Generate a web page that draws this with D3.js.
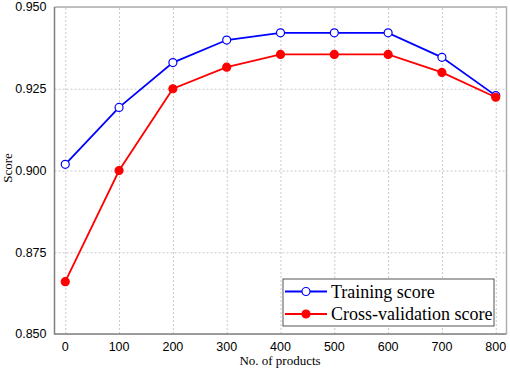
<!DOCTYPE html>
<html lang="en">
<head>
    <meta charset="UTF-8">
    <title>Score vs number of products</title>
    <style>
        body { margin: 0; padding: 0; background: #fff; }
        .grid line { stroke: #c8c8c8; stroke-dasharray: 2,2; }
        .grid path { display: none; }
        .tick-label { font-family: "Liberation Sans", Arial, sans-serif; font-size: 12.5px; fill: #000; }
        .axis-title { font-family: "Liberation Serif", "Times New Roman", serif; font-size: 13px; fill: #000; }
        .legend-text { font-family: "Liberation Serif", "Times New Roman", serif; font-size: 18px; fill: #000; }
    </style>
</head>
<body>
    <svg id="chart" width="510" height="371"></svg>
    <script src="https://d3js.org/d3.v7.min.js"></script>
    <script>
        const products = [0, 100, 200, 300, 400, 500, 600, 700, 800];
        const trainingScore = [0.9019, 0.9193, 0.9330, 0.9399, 0.9421, 0.9421, 0.9421, 0.9346, 0.9229];
        const cvScore = [0.8660, 0.9000, 0.9250, 0.9316, 0.9355, 0.9355, 0.9355, 0.9300, 0.9224];
        const yTicks = [0.850, 0.875, 0.900, 0.925, 0.950];
        const xTicks = [0, 100, 200, 300, 400, 500, 600, 700, 800];

        const margin = { top: 7, right: 3.5, bottom: 37, left: 54.5 };
        const width = 510, height = 371;

        const x = d3.scaleLinear().domain([-20, 820]).range([margin.left, width - margin.right]);
        const y = d3.scaleLinear().domain([0.85, 0.95]).range([height - margin.bottom, margin.top]);

        const svg = d3.select("#chart");

        // grid
        svg.append("g").attr("class", "grid")
            .attr("transform", `translate(0,${height - margin.bottom})`)
            .call(d3.axisBottom(x).tickValues(xTicks).tickSize(-(height - margin.top - margin.bottom)).tickFormat(""));
        svg.append("g").attr("class", "grid")
            .attr("transform", `translate(${margin.left},0)`)
            .call(d3.axisLeft(y).tickValues(yTicks).tickSize(-(width - margin.left - margin.right)).tickFormat(""));

        // frame
        svg.append("path")
            .attr("d", `M${margin.left},${margin.top}H${width - margin.right}V${height - margin.bottom}`)
            .attr("fill", "none").attr("stroke", "#b0b0b0").attr("stroke-width", 1.5);
        svg.append("path")
            .attr("d", `M${margin.left},${margin.top}V${height - margin.bottom}H${width - margin.right}`)
            .attr("fill", "none").attr("stroke", "#808080").attr("stroke-width", 1.5);

        // tick labels
        svg.append("g").selectAll("text").data(yTicks).join("text")
            .attr("class", "tick-label")
            .attr("x", margin.left - 8)
            .attr("y", d => y(d))
            .attr("dy", "0.35em")
            .attr("text-anchor", "end")
            .text(d => d3.format(".3f")(d));
        svg.append("g").selectAll("text").data(xTicks).join("text")
            .attr("class", "tick-label")
            .attr("x", d => x(d))
            .attr("y", 350.5)
            .attr("text-anchor", "middle")
            .text(d => d);

        // axis titles
        svg.append("text").attr("class", "axis-title")
            .attr("x", 280)
            .attr("y", 365)
            .attr("text-anchor", "middle")
            .text("No. of products");
        svg.append("text").attr("class", "axis-title")
            .attr("transform", `translate(12,168) rotate(-90)`)
            .attr("text-anchor", "middle")
            .text("Score");

        const series = [
            { name: "Training score", values: trainingScore, color: "#0000ff", fill: "#ffffff" },
            { name: "Cross-validation score", values: cvScore, color: "#ff0000", fill: "#ff0000" }
        ];

        const line = d3.line().x((d, i) => x(products[i])).y(d => y(d));

        series.forEach(s => {
            svg.append("path")
                .datum(s.values)
                .attr("fill", "none")
                .attr("stroke", s.color)
                .attr("stroke-width", 1.8)
                .attr("d", line);
            svg.append("g").selectAll("circle").data(s.values).join("circle")
                .attr("cx", (d, i) => x(products[i]))
                .attr("cy", d => y(d))
                .attr("r", 4)
                .attr("fill", s.fill)
                .attr("stroke", s.color)
                .attr("stroke-width", 1.2);
        });

        // legend
        const legend = svg.append("g").attr("transform", "translate(283,279)");
        legend.append("rect")
            .attr("width", 211).attr("height", 47)
            .attr("fill", "#fff").attr("stroke", "#555").attr("stroke-width", 1);
        series.forEach((s, i) => {
            const ly = 12.5 + i * 22.5;
            legend.append("line")
                .attr("x1", 2).attr("x2", 44).attr("y1", ly).attr("y2", ly)
                .attr("stroke", s.color).attr("stroke-width", 1.8);
            legend.append("circle")
                .attr("cx", 23).attr("cy", ly).attr("r", 4)
                .attr("fill", s.fill).attr("stroke", s.color).attr("stroke-width", 1.2);
            legend.append("text").attr("class", "legend-text")
                .attr("x", 48).attr("y", ly).attr("dy", "0.35em")
                .text(s.name);
        });
    </script>
</body>
</html>
